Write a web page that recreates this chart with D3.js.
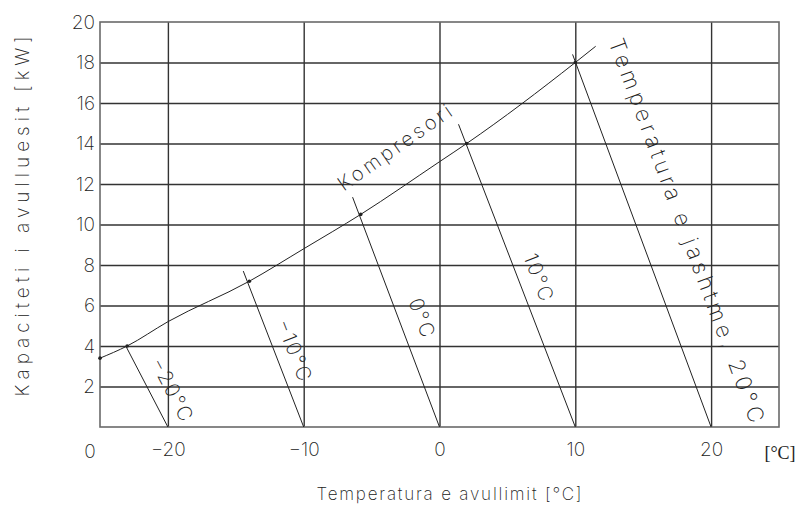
<!DOCTYPE html>
<html>
<head>
<meta charset="utf-8">
<script src="https://d3js.org/d3.v7.min.js"></script>
<style>
  body { margin: 0; background: #fff; }
  text { font-family: Inter, "DejaVu Sans", sans-serif; font-weight: 200; fill: #222; }
</style>
</head>
<body>
<svg width="805" height="515"></svg>
<script>
// evaporating temperature axis and capacity axis
const xTicks = [-20, -10, 0, 10, 20]
const yTicks = [2, 4, 6, 8, 10, 12, 14, 16, 18, 20]
// compressor curve: evaporating temp [°C] vs capacity [kW]
const compT = [-25, -23, -20, -14, -10, -5.8, 0, 2, 10, 11.5]
const compQ = [3.4, 4.0, 5.2, 7.2, 8.8, 10.5, 13.1, 14.0, 18.0, 18.8]
// marked points on the curve
const dotT = [-25, -23, -14, -5.8, 2, 10]
const dotQ = [3.4, 4.0, 7.2, 10.5, 14.0, 18.0]
// outside temperature lines: start at (outT, 0), end at (endT, endQ)
const outT = [-20, -10, 0, 10, 20]
const endT = [-23.1, -14.45, -6.4, 1.4, 9.8]
const endQ = [4.0, 7.7, 11.35, 14.95, 18.4]
const outLabel = ["−20°C", "−10°C", "0°C", "10°C", "Temperatura e jashtme, 20°C"]
const outLabT = [-19.7, -10.7, -1.3, 7.3, 18.2]
const outLabQ = [1.85, 3.8, 5.4, 7.4, 9.7]

const svg = d3.select("svg")
const x = d3.scaleLinear().domain([-25, 25]).range([100, 779])
const y = d3.scaleLinear().domain([0, 20]).range([427, 22])

// grid
svg.append("g")
  .attr("transform", "translate(0,427)")
  .call(d3.axisBottom(x).tickValues(xTicks).tickSize(-405).tickFormat(""))
  .call(g => g.select(".domain").remove())
  .selectAll("line").attr("stroke", "#333").attr("stroke-width", 1.4)
svg.append("g")
  .attr("transform", "translate(100,0)")
  .call(d3.axisLeft(y).tickValues(yTicks.slice(0, -1)).tickSize(-679).tickFormat(""))
  .call(g => g.select(".domain").remove())
  .selectAll("line").attr("stroke", "#333").attr("stroke-width", 1.6)
svg.append("rect")
  .attr("x", x(-25)).attr("y", y(20))
  .attr("width", x(25) - x(-25)).attr("height", y(0) - y(20))
  .attr("fill", "none").attr("stroke", "#6a6a6a").attr("stroke-width", 1.6)

// tick labels
svg.append("g")
  .attr("transform", "translate(0,427)")
  .call(d3.axisBottom(x).tickValues(xTicks).tickSize(0).tickPadding(16))
  .call(g => g.select(".domain").remove())
  .selectAll("text").style("font-size", "19px").attr("fill", "#333")
svg.append("g")
  .attr("transform", "translate(100,0)")
  .call(d3.axisLeft(y).tickValues(yTicks).tickSize(0).tickPadding(5))
  .call(g => g.select(".domain").remove())
  .selectAll("text").style("font-size", "19px").attr("fill", "#333")
svg.selectAll("g").attr("font-family", null)
svg.append("text").attr("x", x(-25) - 10).attr("y", 458)
  .attr("text-anchor", "middle").style("font-size", "19px").attr("fill", "#333").text("0")
svg.append("text").attr("x", 780).attr("y", 459)
  .attr("text-anchor", "middle")
  .style("font-family", "Liberation Serif").style("font-weight", 400).style("font-size", "18px")
  .text("[°C]")

// outside temperature lines
const labLen = [68, 64, 40, 49, 408]
outT.forEach((t, i) => {
  svg.append("line")
    .attr("x1", x(t)).attr("y1", y(0))
    .attr("x2", x(endT[i])).attr("y2", y(endQ[i]))
    .attr("stroke", "#222").attr("stroke-width", 1)
  const ang = Math.atan2(y(0) - y(endQ[i]), x(t) - x(endT[i])) * 180 / Math.PI
  svg.append("text")
    .attr("transform", `translate(${x(outLabT[i])},${y(outLabQ[i])}) rotate(${ang})`)
    .attr("text-anchor", "middle").attr("dy", "0.35em")
    .attr("textLength", labLen[i]).attr("lengthAdjust", "spacing")
    .style("font-size", i === 4 ? "22px" : "20px")
    .text(outLabel[i])
})

// compressor curve
const comp = compT.map((t, i) => [t, compQ[i]])
svg.append("path")
  .datum(comp)
  .attr("fill", "none").attr("stroke", "#222").attr("stroke-width", 1)
  .attr("d", d3.line().x(d => x(d[0])).y(d => y(d[1])).curve(d3.curveMonotoneX))
svg.selectAll(".dot").data(dotT).enter().append("circle")
  .attr("cx", d => x(d)).attr("cy", (d, i) => y(dotQ[i]))
  .attr("r", 1.8).attr("fill", "#222")
svg.append("text")
  .attr("transform", `translate(${x(-3.3)},${y(13.8)}) rotate(-35)`)
  .attr("text-anchor", "middle").attr("dy", "0.35em")
  .attr("textLength", 134).attr("lengthAdjust", "spacing")
  .style("font-size", "20px")
  .text("Kompresori")

// axis titles
svg.append("text")
  .attr("transform", `translate(22,${y(10.4)}) rotate(-90)`)
  .attr("text-anchor", "middle").attr("dy", "0.35em")
  .attr("textLength", 360).attr("lengthAdjust", "spacing")
  .style("font-size", "19px")
  .text("Kapaciteti i avulluesit [kW]")
svg.append("text")
  .attr("x", x(0.7)).attr("y", 500)
  .attr("text-anchor", "middle")
  .attr("textLength", 265).attr("lengthAdjust", "spacing")
  .style("font-size", "17px")
  .text("Temperatura e avullimit [°C]")
</script>
</body>
</html>
